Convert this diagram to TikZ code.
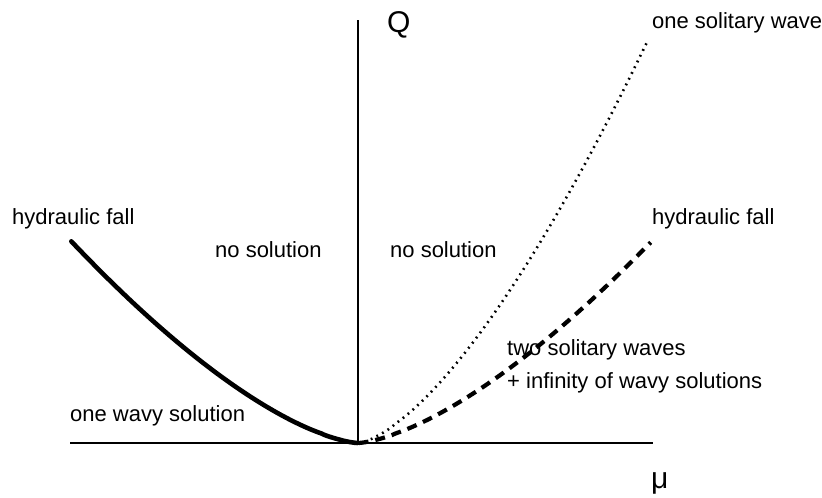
\documentclass[tikz,border=0pt]{standalone}
\usepackage{fontspec}
\setmainfont{Liberation Sans}
\begin{document}
\begin{tikzpicture}[x=1pt,y=-1pt,
  lbl/.style={anchor=base west,inner sep=0pt,font=\fontsize{22}{26}\selectfont},
  axisline/.style={line width=1.6pt},
  solidcurve/.style={line width=4.6pt,line cap=round},
  dashcurve/.style={line width=4.2pt,dash pattern=on 10pt off 7pt},
  dotcurve/.style={line width=2.6pt,dash pattern=on 1.8pt off 4.6pt}]
\useasboundingbox (0,0) rectangle (822,498);
\coordinate (O) at (358,443);
\coordinate (ytop) at (358,20);
\coordinate (xleft) at (70,443);
\coordinate (xright) at (653,443);
\draw[axisline] (ytop) -- (O);
\draw[axisline] (xleft) -- (xright);
% curves Q ~ |mu|^{3/2}
\draw[solidcurve] plot[domain=0.002:1,samples=80] ({358-287*\x},{443-202*\x^1.5});
\draw[dotcurve] plot[domain=0.002:1,samples=80] ({358+290*\x},{443-403*\x^1.5});
\draw[dashcurve] plot[domain=0.002:1,samples=80] ({358+293*\x},{443-201*\x^1.5});
% labels
\node[lbl,font=\fontsize{30}{34}\selectfont] (Q) at (387,32) {Q};
\node[lbl] (osw) at (652,28) {one solitary wave};
\node[lbl] (hfl) at (12,224) {hydraulic fall};
\node[lbl] (hfr) at (652,224) {hydraulic fall};
\node[lbl] (nsl) at (215,257) {no solution};
\node[lbl] (nsr) at (390,257) {no solution};
\node[lbl] (tsw) at (507,355) {two solitary waves};
\node[lbl] (inf) at (507,388) {+ infinity of wavy solutions};
\node[lbl] (ows) at (70,421) {one wavy solution};
\node[lbl,font=\fontsize{30}{34}\selectfont] (mu) at (651,488) {μ};
\end{tikzpicture}
\end{document}
